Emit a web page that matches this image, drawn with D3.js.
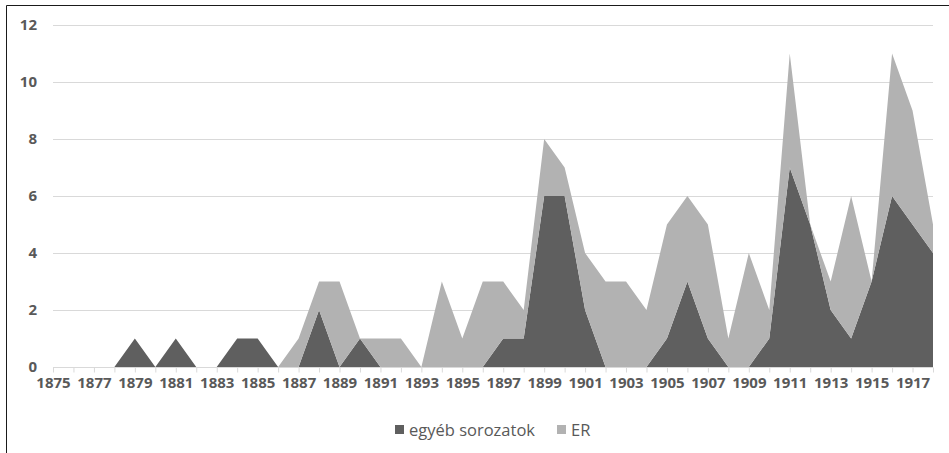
<!DOCTYPE html>
<html><head><meta charset="utf-8">
<script src="https://cdn.jsdelivr.net/npm/d3@7/dist/d3.min.js"></script>
<style>body{margin:0;background:#fff}svg{display:block}</style>
</head><body><svg id="c" width="949" height="453"></svg>
<script>
const years = d3.range(1875, 1919);
const egyeb = [0,0,0,0,1,0,1,0,0,1,1,0,0,2,0,1,0,0,0,0,0,0,1,1,6,6,2,0,0,0,1,3,1,0,0,1,7,5,2,1,3,6,5,4];
const er    = [0,0,0,0,0,0,0,0,0,0,0,0,1,1,3,0,1,1,0,3,1,3,2,1,2,1,2,3,3,2,4,3,4,1,4,1,4,0,1,5,0,5,4,1];
const yTicks = [0,2,4,6,8,10,12];
const xLabels = years.filter((y,i)=>i%2===0);
const seriesNames = ["egyéb sorozatok","ER"];
const colors = ["#5f5f5f","#b2b2b2"];

const svg = d3.select("#c");
const font = "'Open Sans', sans-serif";
svg.append("path").attr("d","M6.5,460V5.5H960").attr("fill","none").attr("stroke","#1a1a1a").attr("stroke-width",1);

const x = d3.scaleLinear().domain([1875,1918]).range([53,933]);
const y = d3.scaleLinear().domain([0,12]).range([367,25]);

const g = svg.append("g");
g.selectAll("line.grid").data(yTicks.slice(1)).join("line")
 .attr("x1",53).attr("x2",933).attr("y1",d=>y(d)+0.5).attr("y2",d=>y(d)+0.5)
 .attr("stroke","#d9d9d9").attr("stroke-width",1);

const table = years.map((yr,i)=>({year:yr, a:egyeb[i], b:er[i]}));
const stack = d3.stack().keys(["a","b"])(table);
const area = d3.area().x(d=>x(d.data.year)).y0(d=>y(d[0])).y1(d=>y(d[1]));
g.selectAll("path.area").data(stack).join("path").attr("d",area).attr("fill",(d,i)=>colors[i]);

const xAxis = d3.axisBottom(x).tickValues(years).tickSize(5).tickFormat(d=> xLabels.includes(d)? String(d):"");
const ax = svg.append("g").attr("transform","translate(0,367.5)").call(xAxis);
ax.select(".domain").attr("stroke","#d9d9d9").attr("d","M53,0H933");
ax.selectAll(".tick line").attr("stroke","#d9d9d9");
ax.selectAll("text").attr("fill","#595959").attr("font-family",font).attr("font-weight","bold").attr("font-size","15px").attr("dy","0.85em");

const yAxis = d3.axisLeft(y).tickValues(yTicks).tickSize(0).tickPadding(16);
const ay = svg.append("g").attr("transform","translate(53,0)").call(yAxis);
ay.select(".domain").remove();
ay.selectAll("text").attr("fill","#595959").attr("font-family",font).attr("font-weight","bold").attr("font-size","15px");

const lg = svg.append("g");
const lx = [395,557];
seriesNames.forEach((n,i)=>{
  lg.append("rect").attr("x",lx[i]).attr("y",425).attr("width",9).attr("height",9).attr("fill",colors[i]);
  lg.append("text").attr("x",lx[i]+14).attr("y",430).attr("dy","0.35em").text(n)
   .attr("fill","#595959").attr("font-family",font).attr("font-size","16.5px");
});
</script></body></html>
